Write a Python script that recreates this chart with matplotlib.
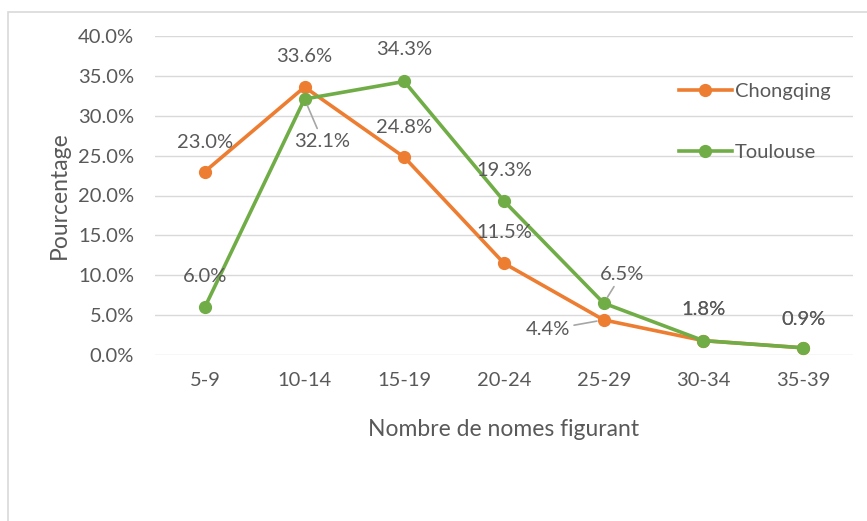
import numpy as np
import matplotlib.pyplot as plt
from matplotlib.patches import Rectangle

categories = ['5-9', '10-14', '15-19', '20-24', '25-29', '30-34', '35-39']
chongqing = [23.0, 33.6, 24.8, 11.5, 4.4, 1.8, 0.9]
toulouse = [6.0, 32.1, 34.3, 19.3, 6.5, 1.8, 0.9]

# label offsets in pixels (dx, dy)
off_cq = [(0, 29), (0, 31), (0, 30), (0, 31), (-56, -10), (0, 31), (0, 28)]
off_tl = [(0, 31), (18, -42), (0, 32), (0, 31), (18, 29), (0, 31), (0, 28)]
leader = {('tl', 1), ('tl', 4), ('cq', 4)}

orange = '#ED7D31'
green = '#70AD47'
txt = '#595959'

plt.rcParams['font.family'] = ['Lato', 'DejaVu Sans']

fig = plt.figure(figsize=(8.67, 5.21), dpi=100)
fig.patches.append(Rectangle((8 / 867, -0.1), 1.2, 1 - 12 / 521 + 0.1,
                             transform=fig.transFigure, fill=False,
                             edgecolor='#D9D9D9', linewidth=1.2))
ax = fig.add_axes([155 / 867, 1 - 355 / 521, 698 / 867, 319 / 521])

x = np.arange(len(categories))
ax.plot(x, chongqing, color=orange, lw=2.6, marker='o', ms=8.5, label='Chongqing', zorder=3)
ax.plot(x, toulouse, color=green, lw=2.6, marker='o', ms=8.5, label='Toulouse', zorder=4)

ax.set_xlim(-0.5, len(categories) - 0.5)
ax.set_ylim(0, 40)
ax.set_yticks(np.arange(0, 41, 5))
ax.set_yticklabels([f'{v:.1f}%' for v in np.arange(0, 41, 5)])
ax.set_xticks(x)
ax.set_xticklabels(categories)
ax.grid(axis='y', color='#D9D9D9', lw=1)
ax.set_axisbelow(True)
for s in ax.spines.values():
    s.set_visible(False)
ax.tick_params(length=0, labelsize=14.5, colors=txt, pad=12)
ax.tick_params(axis='y', pad=15)

ax.set_xlabel('Nombre de nomes figurant', fontsize=16.5, color=txt, labelpad=22)
ax.set_ylabel('Pourcentage', fontsize=16.5, color=txt, labelpad=6)


def put_labels(vals, offs, key):
    for i, (v, (dx, dy)) in enumerate(zip(vals, offs)):
        kw = {}
        if (key, i) in leader:
            kw['arrowprops'] = dict(arrowstyle='-', color='#A6A6A6', lw=1.2,
                                    shrinkA=1, shrinkB=5)
        ax.annotate(f'{v:.1f}%', (i, v), xytext=(dx, dy), textcoords='offset pixels',
                    ha='center', va='center', fontsize=14.5, color=txt, zorder=5, **kw)


put_labels(chongqing, off_cq, 'cq')
put_labels(toulouse, off_tl, 'tl')

leg = ax.legend(loc='upper left', bbox_to_anchor=(0.725, 0.91), frameon=False,
                fontsize=14.5, labelspacing=2.2, handlelength=2.6, handletextpad=0.15,
                labelcolor=txt)

fig.savefig('out.png', dpi=100)
